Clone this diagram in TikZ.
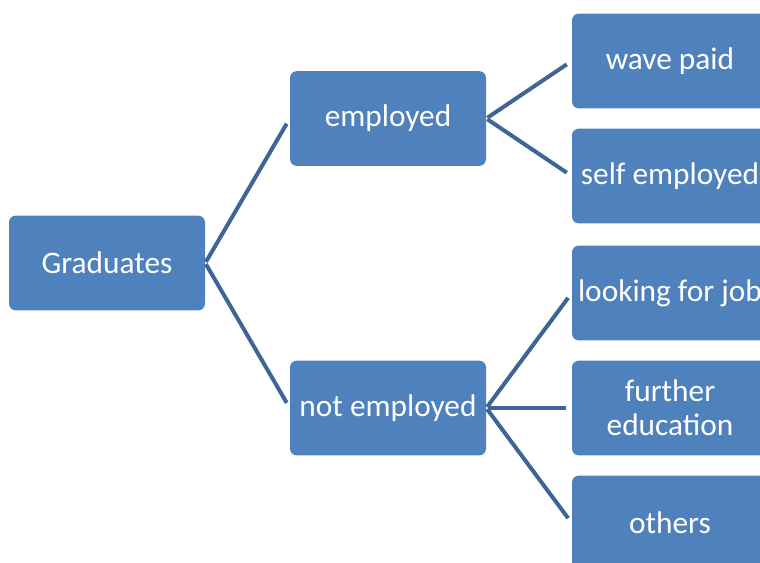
\documentclass[tikz,border=0pt]{standalone}
\usepackage{fontspec}
\setmainfont{Carlito}
\usepackage{tikz}
\usetikzlibrary{positioning, calc}
\definecolor{gradblue}{RGB}{79, 129, 189}
\definecolor{linkblue}{RGB}{62, 101, 150}

\begin{document}
\begin{tikzpicture}[
    x=0.75pt, y=-0.75pt,
    box/.style={fill=gradblue, rounded corners=5pt, minimum width=147pt, minimum height=71pt,
        text=white, align=center, inner sep=0pt,
        font=\fontsize{23.5}{25.5}\selectfont},
    link/.style={draw=linkblue, line width=3pt, shorten <=1pt, shorten >=4.5pt}
]
    % Fix the frame and cut off what runs past the right edge
    \useasboundingbox (0,0) rectangle (760,562);
    \clip (0,0) rectangle (760,562);

    % Boxes of the tree
    \node[box] (grad) at (107,263) {Graduates};
    \node[box] (emp) at (388,118.5) {employed};
    \node[box] (notemp) at (388,408) {not employed};
    \node[box] (wage) at (670,61) {wave paid};
    \node[box] (self) at (670,176) {self employed};
    \node[box] (look) at (670,293) {looking for job};
    \node[box] (further) at (670,408) {further\\education};
    \node[box] (others) at (670,523) {others};

    % Connectors
    \draw[link] (grad.east) -- (emp.west);
    \draw[link] (grad.east) -- (notemp.west);
    \draw[link] (emp.east) -- (wage.west);
    \draw[link] (emp.east) -- (self.west);
    \draw[link] (notemp.east) -- (look.west);
    \draw[link] (notemp.east) -- (further.west);
    \draw[link] (notemp.east) -- (others.west);
\end{tikzpicture}
\end{document}
